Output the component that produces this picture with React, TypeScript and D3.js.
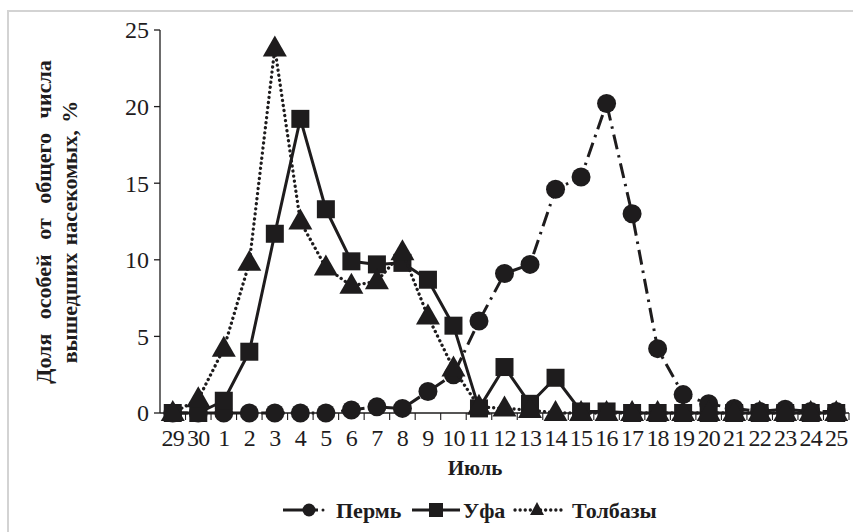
import React from "react";
import * as d3 from "d3";

const days = ["29","30","1","2","3","4","5","6","7","8","9","10","11","12","13","14","15","16","17","18","19","20","21","22","23","24","25"];
const perm = [0,0,0,0,0,0,0,0.2,0.4,0.3,1.4,2.5,6.0,9.1,9.7,14.6,15.4,20.2,13.0,4.2,1.2,0.6,0.3,0.1,0.25,0.1,0.1];
const ufa = [0,0,0.8,4.0,11.7,19.2,13.3,9.9,9.7,9.8,8.7,5.7,0.3,3.0,0.6,2.3,0.1,0.1,0,0,0,0,0,0,0,0,0];
const tolbazy = [0,0.9,4.2,9.8,23.8,12.5,9.5,8.3,8.6,10.5,6.3,2.9,0.4,0.3,0.2,0,0,0,0,0,0,0,0,0,0,0,0];
const yTicks = [0,5,10,15,20,25];
const seriesNames = ["Пермь","Уфа","Толбазы"];

const INK = "#1e1c1d";
const FONT = '"Liberation Serif", "Times New Roman", serif';
const tf: React.CSSProperties = { fontFamily: FONT };

export default function App() {
  const W = 853, H = 532;
  const x = d3.scaleBand<string>().domain(days).range([160, 849]).padding(0);
  const y = d3.scaleLinear().domain([0, 25]).range([413, 30]);
  const cx = (i: number) => (x(days[i]) as number) + x.bandwidth() / 2;
  const line = (vals: number[]) =>
    d3.line<number>().x((_, i) => cx(i)).y((v) => y(v))(vals) as string;

  const circle = (px: number, py: number, k: string) => <circle key={k} cx={px} cy={py} r={9.5} fill={INK} />;
  const square = (px: number, py: number, k: string) => <rect key={k} x={px - 9} y={py - 9} width={18} height={18} fill={INK} />;
  const tri = (px: number, py: number, k: string) => (
    <path key={k} d={`M${px},${py - 13}L${px + 12},${py + 8}L${px - 12},${py + 8}Z`} fill={INK} />
  );

  const styles = [
    { vals: perm, dash: "15 6 2.5 6", cap: "butt", w: 3, m: circle },
    { vals: ufa, dash: undefined, cap: "butt", w: 3, m: square },
    { vals: tolbazy, dash: "0.1 5", cap: "round", w: 3.3, m: tri },
  ];

  const legendItems = [
    { x1: 283, x2: 318, mx: 309, tx: 336, dash: undefined, cap: "butt", w: 3 },
    { x1: 412, x2: 460, mx: 436, tx: 463, dash: undefined, cap: "butt", w: 3 },
    { x1: 515, x2: 566, mx: 537, tx: 572, dash: "0.1 5", cap: "round", w: 3.3 },
  ];

  return (
    <svg width={W} height={H} style={{ position: "absolute", left: 0, top: 0 }}>
      <rect x={0} y={0} width={W} height={H} fill="#fff" />
      <rect x={8} y={11} width={W + 20} height={H + 20} fill="none" stroke="#d3d3d3" strokeWidth={2} />

      {/* y axis */}
      <line x1={160} x2={160} y1={y(25)} y2={y(0)} stroke={INK} strokeWidth={1.3} />
      {yTicks.map((t) => (
        <g key={t}>
          <line x1={154} x2={160} y1={y(t)} y2={y(t)} stroke={INK} strokeWidth={1.3} />
          <text x={149} y={y(t)} dy="0.35em" textAnchor="end" fontSize={24} fill={INK} style={tf}>{t}</text>
        </g>
      ))}

      {/* x axis */}
      <line x1={160} x2={849} y1={y(0)} y2={y(0)} stroke={INK} strokeWidth={1.3} />
      {days.map((d, i) => (
        <line key={"t" + i} x1={(x(d) as number) + x.bandwidth()} x2={(x(d) as number) + x.bandwidth()} y1={y(0)} y2={y(0) + 7} stroke={INK} strokeWidth={1.1} />
      ))}
      {days.map((d, i) => (
        <text key={"l" + i} x={cx(i)} y={446} textAnchor="middle" fontSize={24} fill={INK} letterSpacing={-0.8} style={tf}>{d}</text>
      ))}

      {/* series */}
      {styles.map((s, si) => (
        <g key={si}>
          <path d={line(s.vals)} fill="none" stroke={INK} strokeWidth={s.w} strokeDasharray={s.dash} strokeLinecap={s.cap as any} strokeLinejoin="round" />
          {s.vals.map((v, i) => s.m(cx(i), y(v), `${si}-${i}`))}
        </g>
      ))}

      {/* axis titles */}
      <text x={475} y={475} textAnchor="middle" fontSize={21} fontWeight="bold" fill={INK} style={tf}>Июль</text>
      <text transform="translate(51,222) rotate(-90)" textAnchor="middle" fontSize={22} fontWeight="bold" fill={INK} wordSpacing={9} style={tf}>Доля особей от общего числа</text>
      <text transform="translate(77,232) rotate(-90)" textAnchor="middle" fontSize={22} fontWeight="bold" fill={INK} wordSpacing={2} style={tf}>вышедших насекомых, %</text>

      {/* legend */}
      {legendItems.map((l, i) => (
        <g key={"lg" + i}>
          {i === 0 ? (
            <>
              <line x1={283} x2={318} y1={510} y2={510} stroke={INK} strokeWidth={3} />
              <circle cx={323} cy={510} r={1.5} fill={INK} />
              <circle cx={l.mx} cy={510} r={6.5} fill={INK} />
            </>
          ) : (
            <line x1={l.x1} x2={l.x2} y1={510} y2={510} stroke={INK} strokeWidth={l.w} strokeDasharray={l.dash} strokeLinecap={l.cap as any} />
          )}
          {i === 1 ? <rect x={l.mx - 7} y={503} width={14} height={14} fill={INK} /> : i === 2 ? <path d={`M${l.mx},${502}L${l.mx + 7},${515}L${l.mx - 7},${515}Z`} fill={INK} /> : null}
          <text x={l.tx} y={518} fontSize={22} fontWeight="bold" fill={INK} style={tf}>{seriesNames[i]}</text>
        </g>
      ))}
    </svg>
  );
}
